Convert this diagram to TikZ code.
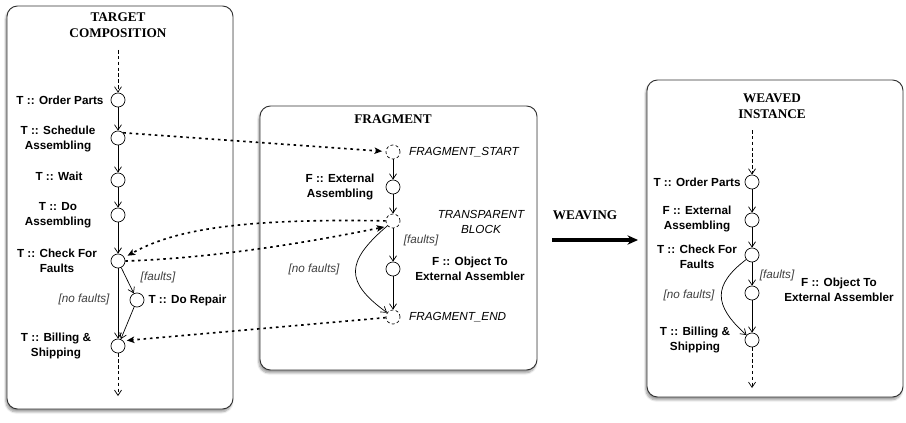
\documentclass[tikz,border=0pt]{standalone}
\usepackage{fontspec}
\setmainfont{Liberation Serif}
\setsansfont{Liberation Sans}
\usetikzlibrary{arrows.meta,shadows.blur,positioning}
\begin{document}
\begin{tikzpicture}[x=0.03cm,y=-0.03cm,every node/.style={black},
  panel/.style={draw=black!80,line width=0.8pt,rounded corners=9pt,fill=white,
    blur shadow={shadow xshift=-1pt,shadow yshift=-2.5pt,shadow blur steps=6}},
  heading/.style={font=\fontsize{11.3}{14}\selectfont\rmfamily\bfseries,align=center},
  act/.style={circle,draw,line width=0.6pt,minimum size=12pt,inner sep=0pt},
  hook/.style={act,dash pattern=on 2.5pt off 2pt},
  actlabel/.style={font=\fontsize{10}{12.7}\selectfont\sffamily\bfseries,align=center},
  guard/.style={font=\fontsize{10}{12.7}\selectfont\sffamily\itshape,text=black!75,align=center},
  flow/.style={-{Straight Barb[length=4.5pt,width=6pt]},line width=0.6pt},
  entry/.style={flow,dash pattern=on 3pt off 2pt},
  link/.style={-{Stealth[length=6.5pt,width=5.5pt,inset=1.5pt]},line width=1.4pt,dash pattern=on 2.2pt off 3.2pt,shorten >=3pt}]
  \useasboundingbox (0,0) rectangle (906,422);
  \draw [panel] (7,6) rectangle (233,409);
  \draw [panel] (260,106) rectangle (537,370);
  \draw [panel] (647,80) rectangle (903,397);

  \node [heading] (ttitle) at (118,25) {TARGET\\COMPOSITION};
  \coordinate (tin) at (118,50);
  \coordinate (tout) at (118,396);
  \node [act] (t1) at (118,100) {};
  \node [act] (t2) at (118,138) {};
  \node [act] (t3) at (118,180) {};
  \node [act] (t4) at (118,215) {};
  \node [act] (t5) at (118,261) {};
  \node [act] (t6) at (137,300) {};
  \node [act] (t7) at (118,346) {};
  \node [actlabel] (tl1) at (60,100) {T :: Order Parts};
  \node [actlabel] (tl2) at (58,139) {T :: Schedule\\Assembling};
  \node [actlabel] (tl3) at (59,176) {T :: Wait};
  \node [actlabel] (tl4) at (58,215) {T :: Do\\Assembling};
  \node [actlabel] (tl5) at (57,261) {T :: Check For\\Faults};
  \node [actlabel,right=0pt of t6] (tl6) {T :: Do Repair};
  \node [actlabel] (tl7) at (56,346) {T :: Billing \&\\Shipping};
  \node [guard] (tg1) at (158,277) {[faults]};
  \node [guard] (tg2) at (84,299) {[no faults]};
  \draw [entry] (tin) -- (t1);
  \draw [flow] (t1) -- (t2);
  \draw [flow] (t2) -- (t3);
  \draw [flow] (t3) -- (t4);
  \draw [flow] (t4) -- (t5);
  \draw [flow] (t5) -- (t7);
  \draw [flow] (t5) -- (t6);
  \draw [flow] (t6) -- (t7);
  \draw [entry] (t7) -- (tout);

  \node [heading] (ftitle) at (393,119) {FRAGMENT};
  \node [hook] (f1) at (393,152) {};
  \node [act] (f2) at (393,187) {};
  \node [hook] (f3) at (393,221) {};
  \node [act] (f4) at (393,269) {};
  \node [hook] (f5) at (393,317) {};
  \node [guard,text=black,right=4pt of f1] (fl1) {FRAGMENT\_START};
  \node [actlabel] (fl2) at (340,187) {F :: External\\Assembling};
  \node [guard,text=black] (fl3) at (481,222) {TRANSPARENT\\BLOCK};
  \node [actlabel] (fl4) at (470,269) {F :: Object To\\External Assembler};
  \node [guard,text=black,right=4pt of f5] (fl5) {FRAGMENT\_END};
  \node [guard] (fg1) at (421,240) {[faults]};
  \node [guard] (fg2) at (314,269) {[no faults]};
  \draw [flow] (f1) -- (f2);
  \draw [flow] (f2) -- (f3);
  \draw [flow] (f3) -- (f4);
  \draw [flow] (f4) -- (f5);
  \draw [flow] (f3) .. controls (345,262) and (345,282) .. (f5);

  \draw [link] (t2.north east) -- (f1);
  \draw [link] (f3) .. controls (230,218) and (170,232) .. (t5);
  \draw [link] (t5.east) .. controls (220,258) and (320,240) .. (f3.south west);
  \draw [link] (f5) -- (t7.north east);

  \node [heading] (weave) at (585,215) {WEAVING};
  \coordinate (wa) at (552,240);
  \coordinate (wb) at (638,240);
  \draw [-{Stealth[length=9pt,width=8pt]},line width=2.6pt] (wa) -- (wb);

  \node [heading] (wtitle) at (772,106) {WEAVED\\INSTANCE};
  \coordinate (win) at (752,130);
  \coordinate (wout) at (752,388);
  \node [act] (w1) at (752,182) {};
  \node [act] (w2) at (752,220) {};
  \node [act] (w3) at (752,255) {};
  \node [act] (w4) at (752,293) {};
  \node [act] (w5) at (752,340) {};
  \node [actlabel] (wl1) at (697,182) {T :: Order Parts};
  \node [actlabel] (wl2) at (697,219) {F :: External\\Assembling};
  \node [actlabel] (wl3) at (697,257) {T :: Check For\\Faults};
  \node [actlabel] (wl4) at (839,290) {F :: Object To\\External Assembler};
  \node [actlabel] (wl5) at (695,340) {T :: Billing \&\\Shipping};
  \node [guard] (wg1) at (777,275) {[faults]};
  \node [guard] (wg2) at (689,295) {[no faults]};
  \draw [entry] (win) -- (w1);
  \draw [flow] (w1) -- (w2);
  \draw [flow] (w2) -- (w3);
  \draw [flow] (w3) -- (w4);
  \draw [flow] (w4) -- (w5);
  \draw [flow] (w3) .. controls (713,285) and (713,305) .. (w5);
  \draw [entry] (w5) -- (wout);
\end{tikzpicture}
\end{document}
